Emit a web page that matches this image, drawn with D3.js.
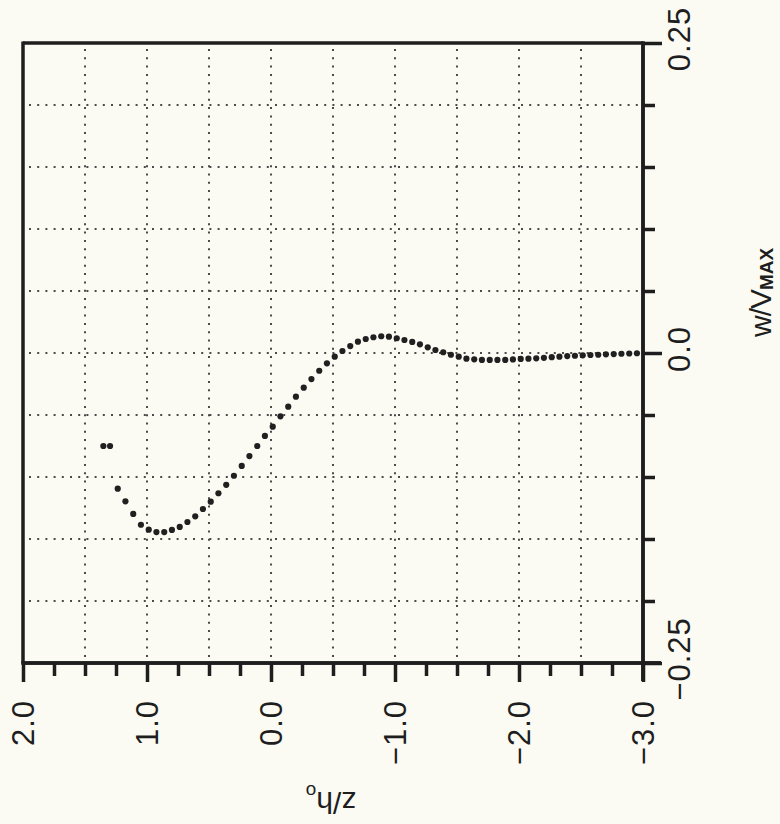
<!DOCTYPE html>
<html>
<head>
<meta charset="utf-8">
<script src="https://cdn.jsdelivr.net/npm/d3@7"></script>
<style>
  html, body { margin: 0; padding: 0; background: #fbfbf3; }
  svg { display: block; }
  text { font-family: "Liberation Sans", Arial, Helvetica, sans-serif; fill: #1e1e1e; }
</style>
</head>
<body>
<svg id="chart" width="780" height="824"></svg>
<script>
// ---- data ----
const zValues = [1.236, 1.174, 1.111, 1.049, 0.986, 0.924, 0.861, 0.799, 0.736, 0.674,
  0.611, 0.549, 0.486, 0.424, 0.361, 0.299, 0.236, 0.174, 0.111, 0.049,
  -0.014, -0.076, -0.139, -0.201, -0.264, -0.326, -0.389, -0.451, -0.514, -0.576,
  -0.639, -0.701, -0.764, -0.826, -0.889, -0.951, -1.014, -1.076, -1.139, -1.201,
  -1.264, -1.326, -1.389, -1.451, -1.514, -1.576, -1.639, -1.701, -1.764, -1.826,
  -1.889, -1.951, -2.014, -2.076, -2.139, -2.201, -2.264, -2.326, -2.389, -2.451,
  -2.514, -2.576, -2.639, -2.701, -2.764, -2.826, -2.889, -2.951];
const wValues = [-0.1094, -0.1196, -0.1298, -0.1385, -0.1425, -0.1444, -0.1444, -0.1427, -0.1403, -0.1363,
  -0.1317, -0.1258, -0.1199, -0.1131, -0.1063, -0.0990, -0.0911, -0.0831, -0.0750, -0.0669,
  -0.0594, -0.0511, -0.0433, -0.0352, -0.0280, -0.0210, -0.0143, -0.0083, -0.0030, 0.0016,
  0.0056, 0.0091, 0.0113, 0.0127, 0.0135, 0.0132, 0.0119, 0.0105, 0.0089, 0.0070,
  0.0046, 0.0024, 0.0006, -0.0014, -0.0030, -0.0046, -0.0051, -0.0056, -0.0056, -0.0056,
  -0.0056, -0.0052, -0.0048, -0.0046, -0.0043, -0.0039, -0.0034, -0.0030, -0.0025, -0.0022,
  -0.0019, -0.0016, -0.0014, -0.0011, -0.0009, -0.0006, -0.0004, -0.0002];
// isolated pair of points at the left
const zPair = [1.352, 1.298];
const wPair = [-0.075, -0.075];

const zTickValues = [2.0, 1.0, 0.0, -1.0, -2.0, -3.0];
const zTickLabels = ["2.0", "1.0", "0.0", "\u22121.0", "\u22122.0", "\u22123.0"];
const wTickValues = [0.25, 0.0, -0.25];
const wTickLabels = ["0.25", "0.0", "\u22120.25"];
const zLabel = "z/h";
const zLabelSub = "o";
const wLabel = "w/V";
const wLabelSub = "MAX";

(function () {
// ---- layout ----
const svg = d3.select("#chart");
const pL = 23, pR = 643, pT = 43, pB = 663;
const x = d3.scaleLinear().domain([2, -3]).range([pL, pR]);
const y = d3.scaleLinear().domain([0.25, -0.25]).range([pT, pB]);
const ink = "#1e1e1e";

// grid (dotted)
const gz = d3.range(1.5, -2.6, -0.5);
const gw = d3.range(0.20, -0.201, -0.05);
const grid = svg.append("g");
grid.selectAll("line.v").data(gz).join("line")
  .attr("x1", d => x(d)).attr("x2", d => x(d))
  .attr("y1", pT + 6).attr("y2", pB - 2)
  .attr("stroke", "#4a4a4a").attr("stroke-width", 2)
  .attr("stroke-dasharray", "2 6.3");
grid.selectAll("line.h").data(gw).join("line")
  .attr("y1", d => y(d)).attr("y2", d => y(d))
  .attr("x1", pL + 6).attr("x2", pR - 2)
  .attr("stroke", "#4a4a4a").attr("stroke-width", 2)
  .attr("stroke-dasharray", "2 6.2");

// frame top & left
svg.append("line").attr("x1", pL).attr("x2", pR).attr("y1", pT).attr("y2", pT)
  .attr("stroke", ink).attr("stroke-width", 3.5);
svg.append("line").attr("x1", pL).attr("x2", pL).attr("y1", pT - 1.5).attr("y2", pB)
  .attr("stroke", ink).attr("stroke-width", 3.5);

// bottom axis
const minorZ = d3.range(2, -3.01, -0.25).filter(v => Math.abs(v - Math.round(v)) > 1e-6);
const gxMinor = svg.append("g").attr("transform", `translate(0,${pB})`)
  .call(d3.axisBottom(x).tickValues(minorZ).tickSize(13).tickSizeOuter(0).tickFormat(""));
const gxMajor = svg.append("g").attr("transform", `translate(0,${pB})`)
  .call(d3.axisBottom(x).tickValues(zTickValues).tickSize(19).tickSizeOuter(0).tickFormat(""));
[gxMinor, gxMajor].forEach(g => {
  g.select(".domain").attr("stroke", ink).attr("stroke-width", 3.5)
    .attr("d", `M${pL - 1.5},0H${pR + 18}`);
  g.selectAll(".tick line").attr("stroke", ink).attr("stroke-width", 3.5);
});

// right axis
const minorW = d3.range(0.20, -0.201, -0.05).filter(v => Math.abs(v) > 1e-6);
const gyMinor = svg.append("g").attr("transform", `translate(${pR},0)`)
  .call(d3.axisRight(y).tickValues(minorW).tickSize(12).tickSizeOuter(0).tickFormat(""));
const gyMajor = svg.append("g").attr("transform", `translate(${pR},0)`)
  .call(d3.axisRight(y).tickValues(wTickValues).tickSize(19).tickSizeOuter(0).tickFormat(""));
[gyMinor, gyMajor].forEach(g => {
  g.select(".domain").attr("stroke", ink).attr("stroke-width", 3.5)
    .attr("d", `M0,${pT - 1.5}V${pB + 18}`);
  g.selectAll(".tick line").attr("stroke", ink).attr("stroke-width", 3.5);
});

// tick labels (rotated -90)
svg.append("g").selectAll("text").data(zTickValues).join("text")
  .attr("transform", d => `translate(${x(d)},700) rotate(-90)`)
  .attr("text-anchor", "end").attr("dy", "0.36em")
  .attr("font-size", 31).attr("letter-spacing", 1)
  .text((d, i) => zTickLabels[i]);
svg.append("g").selectAll("text").data(wTickValues).join("text")
  .attr("transform", d => `translate(690,${y(d) - 4}) rotate(-90)`)
  .attr("text-anchor", "middle")
  .attr("font-size", 31).attr("letter-spacing", 1)
  .text((d, i) => wTickLabels[i]);

// axis titles
const zt = svg.append("text")
  .attr("transform", "translate(331,792) rotate(180)")
  .attr("text-anchor", "middle").attr("font-size", 30);
zt.append("tspan").text(zLabel);
zt.append("tspan").attr("font-size", 19).attr("dy", 7).text(zLabelSub);

const wt = svg.append("text")
  .attr("transform", "translate(771,337) rotate(-90)")
  .attr("text-anchor", "start").attr("font-size", 30);
wt.append("tspan").attr("letter-spacing", -1).text(wLabel);
wt.append("tspan").attr("font-size", 19).attr("font-weight", "bold").attr("dy", 2).text(wLabelSub);

// data points
const pts = zValues.map((z, i) => ({ z, w: wValues[i] }));
svg.append("g").selectAll("circle").data(pts).join("circle")
  .attr("cx", d => x(d.z)).attr("cy", d => y(d.w)).attr("r", 3.1).attr("fill", "#202020");
const pair = zPair.map((z, i) => ({ z, w: wPair[i] }));
svg.append("g").selectAll("circle").data(pair).join("circle")
  .attr("cx", d => x(d.z)).attr("cy", d => y(d.w)).attr("r", 3.1).attr("fill", "#202020");
})();
</script>
</body>
</html>
